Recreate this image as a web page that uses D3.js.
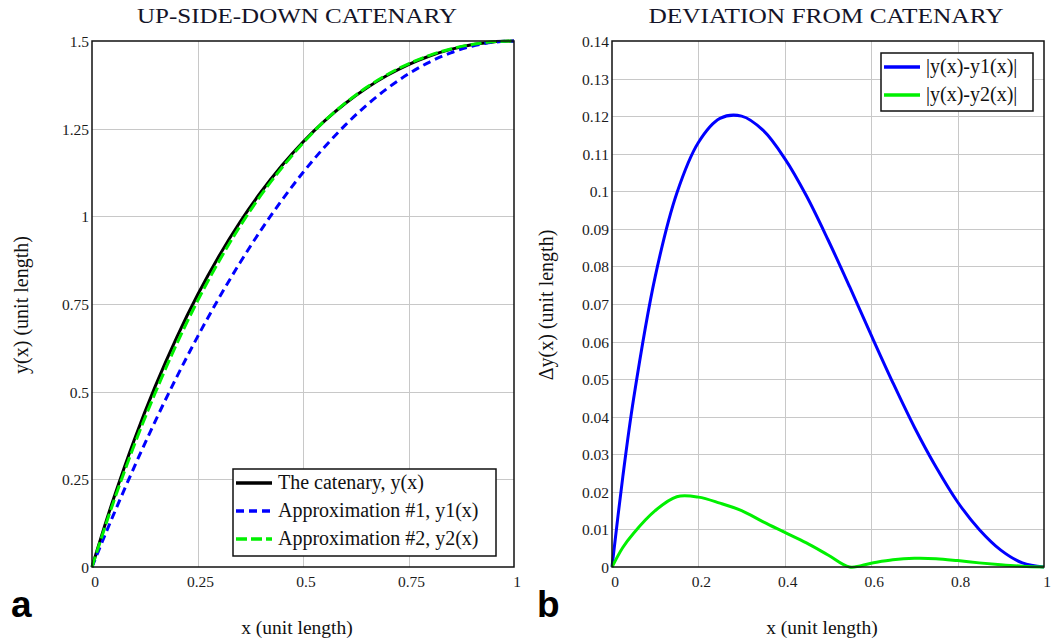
<!DOCTYPE html>
<html>
<head>
<meta charset="utf-8">
<title>Catenary</title>
<script src="https://d3js.org/d3.v7.min.js"></script>
<style>
  html, body { margin: 0; padding: 0; background: #fff; }
  svg { display: block; font-family: "Liberation Serif", "Times New Roman", serif; }
  svg text { font-family: "Liberation Serif", "Times New Roman", serif; }
  .grid line { stroke: #c8c8c8; stroke-width: 1; shape-rendering: crispEdges; }
  .grid path { display: none; }
  .tick-lbl { font-size: 15.5px; fill: #1b1b1b; }
</style>
</head>
<body>
<div id="chart"></div>
<script>
// x positions (unit length) where values were read
var xs = [0, 0.025, 0.05, 0.1, 0.15, 0.2, 0.25, 0.3, 0.35, 0.4, 0.45, 0.5,
          0.55, 0.6, 0.65, 0.7, 0.75, 0.8, 0.85, 0.9, 0.95, 1];

// panel a: the catenary and two approximations
var yCatenary = [0, 0.0981, 0.1910, 0.3623, 0.5157, 0.6530, 0.7756, 0.8850, 0.9824, 1.0687, 1.1450, 1.2121,
                 1.2708, 1.3217, 1.3653, 1.4022, 1.4328, 1.4573, 1.4762, 1.4895, 1.4974, 1.5];
var yApprox1 = [0, 0.0741, 0.1463, 0.2850, 0.4163, 0.5400, 0.6563, 0.7650, 0.8663, 0.9600, 1.0463, 1.1250,
                1.1963, 1.2600, 1.3163, 1.3650, 1.4063, 1.4400, 1.4663, 1.4850, 1.4963, 1.5];
var yApprox2 = [0, 0.0929, 0.1820, 0.3473, 0.4970, 0.6344, 0.7584, 0.8700, 0.9704, 1.0595, 1.1386, 1.2089,
                1.2708, 1.3227, 1.3672, 1.4045, 1.4350, 1.4590, 1.4773, 1.4901, 1.4976, 1.5];

// panel b: deviations
var dev1 = [0, 0.0240, 0.0448, 0.0773, 0.0995, 0.1130, 0.1194, 0.1200, 0.1162, 0.1087, 0.0988, 0.0871,
            0.0746, 0.0617, 0.0491, 0.0372, 0.0266, 0.0173, 0.0100, 0.0045, 0.0011, 0];
var dev2 = [0, 0.0052, 0.0090, 0.0150, 0.0187, 0.0186, 0.0170, 0.0150, 0.0120, 0.0092, 0.0064, 0.0032,
            0.0000, 0.0010, 0.0019, 0.0023, 0.0022, 0.0017, 0.0011, 0.0006, 0.0002, 0];

var ticksA_x = [0, 0.25, 0.5, 0.75, 1];
var ticksA_y = [0, 0.25, 0.5, 0.75, 1, 1.25, 1.5];
var ticksB_x = [0, 0.2, 0.4, 0.6, 0.8, 1];
var ticksB_y = [0, 0.01, 0.02, 0.03, 0.04, 0.05, 0.06, 0.07, 0.08, 0.09, 0.1, 0.11, 0.12, 0.13, 0.14];

var W = 1052, H = 643;
var serif = "'Liberation Serif', 'Times New Roman', serif";
var svg = d3.select("#chart").append("svg").attr("width", W).attr("height", H);

function panel(opt) {
  var x = d3.scaleLinear().domain([0, 1]).range([opt.left, opt.right]);
  var y = d3.scaleLinear().domain([0, opt.ymax]).range([567, 41]);
  var g = svg.append("g");

  // grid
  g.append("g").attr("class", "grid")
    .attr("transform", "translate(0,567)")
    .call(d3.axisBottom(x).tickValues(opt.xt.slice(1, -1)).tickSize(-526).tickFormat(""));
  g.append("g").attr("class", "grid")
    .attr("transform", "translate(" + opt.left + ",0)")
    .call(d3.axisLeft(y).tickValues(opt.yt.slice(1, -1)).tickSize(-(opt.right - opt.left)).tickFormat(""));

  // tick labels
  g.selectAll(".xl").data(opt.xt).enter().append("text")
    .attr("class", "tick-lbl")
    .attr("font-family", serif)
    .style("font-family", serif)
    .attr("x", function(d) { return x(d) + 3; })
    .attr("y", 587)
    .attr("text-anchor", "middle")
    .text(function(d) { return d3.format("")(d); });
  g.selectAll(".yl").data(opt.yt).enter().append("text")
    .attr("class", "tick-lbl")
    .attr("font-family", serif)
    .style("font-family", serif)
    .attr("x", opt.left - 3)
    .attr("y", function(d) { return y(d) + 6; })
    .attr("text-anchor", "end")
    .text(function(d) { return d3.format("")(d); });

  // curves
  var line = d3.line()
    .x(function(d, i) { return x(xs[i]); })
    .y(function(d) { return y(d); })
    .curve(d3.curveCatmullRom.alpha(0.5));
  opt.series.forEach(function(s) {
    g.append("path")
      .attr("d", line(s.values))
      .attr("fill", "none")
      .attr("stroke", s.color)
      .attr("stroke-width", s.width)
      .attr("stroke-dasharray", s.dash || null);
  });

  // frame
  g.append("rect")
    .attr("x", opt.left).attr("y", 41)
    .attr("width", opt.right - opt.left).attr("height", 526)
    .attr("fill", "none").attr("stroke", "#111").attr("stroke-width", 1.5);

  // titles
  g.append("text")
    .attr("x", opt.titleX).attr("y", 23)
    .attr("text-anchor", "middle")
    .attr("textLength", opt.titleW).attr("lengthAdjust", "spacingAndGlyphs")
    .style("font-family", serif)
    .style("font-size", "21.5px").style("fill", "#141428")
    .text(opt.title);
  g.append("text")
    .attr("x", (opt.left + opt.right) / 2 - 6).attr("y", 634)
    .attr("text-anchor", "middle")
    .style("font-family", serif)
    .style("font-size", "19.5px").style("fill", "#111")
    .text("x (unit length)");
  g.append("text")
    .attr("transform", "translate(" + opt.ylabX + ",305) rotate(-90)")
    .attr("text-anchor", "middle")
    .style("font-family", serif)
    .style("font-size", "20px").style("fill", "#111")
    .text(opt.ylab);
  g.append("text")
    .attr("x", opt.letterX).attr("y", 617)
    .style("font-family", "'Liberation Sans', Arial, sans-serif")
    .style("font-weight", "bold").style("font-size", "37px")
    .text(opt.letter);

  // legend
  var lg = g.append("g");
  lg.append("rect")
    .attr("x", opt.legend.x).attr("y", opt.legend.y)
    .attr("width", opt.legend.w).attr("height", opt.legend.h)
    .attr("fill", "#fff").attr("stroke", "#111").attr("stroke-width", 1.5);
  opt.series.forEach(function(s, i) {
    var cy = opt.legend.y + 14 + i * 28;
    lg.append("line")
      .attr("x1", opt.legend.x + 3).attr("x2", opt.legend.x + 39)
      .attr("y1", cy).attr("y2", cy)
      .attr("stroke", s.color).attr("stroke-width", s.width + 0.5)
      .attr("stroke-dasharray", s.dash || null);
    lg.append("text")
      .attr("x", opt.legend.x + 45).attr("y", cy + 6)
      .style("font-family", serif)
      .style("font-size", "20px").style("fill", "#111")
      .text(s.name);
  });
}

panel({
  left: 92, right: 514, ymax: 1.5,
  xt: ticksA_x, yt: ticksA_y,
  title: "UP-SIDE-DOWN CATENARY", titleX: 297, titleW: 320,
  ylab: "y(x) (unit length)", ylabX: 28,
  letter: "a", letterX: 11,
  legend: {x: 233, y: 469, w: 263, h: 87},
  series: [
    {name: "The catenary, y(x)", values: yCatenary, color: "#000", width: 3},
    {name: "Approximation #1, y1(x)", values: yApprox1, color: "#0000ff", width: 3, dash: "8,5"},
    {name: "Approximation #2, y2(x)", values: yApprox2, color: "#00f000", width: 3, dash: "11,4"}
  ]
});

panel({
  left: 612, right: 1044, ymax: 0.14,
  xt: ticksB_x, yt: ticksB_y,
  title: "DEVIATION FROM CATENARY", titleX: 826, titleW: 355,
  ylab: "\u0394y(x) (unit length)", ylabX: 553,
  letter: "b", letterX: 537,
  legend: {x: 881, y: 53, w: 152, h: 58},
  series: [
    {name: "|y(x)-y1(x)|", values: dev1, color: "#0000ff", width: 3},
    {name: "|y(x)-y2(x)|", values: dev2, color: "#00f000", width: 3}
  ]
});
</script>
</body>
</html>
